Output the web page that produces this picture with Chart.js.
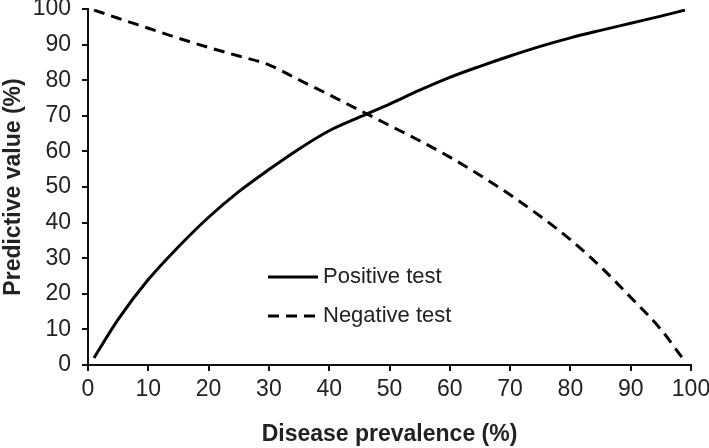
<!DOCTYPE html>
<html lang="en">
<head>
  <meta charset="UTF-8">
  <title>Predictive value vs disease prevalence</title>
  <script src="https://cdn.jsdelivr.net/npm/chart.js"></script>
  <style>
    html, body {
      margin: 0;
      padding: 0;
      background: white;
    }
    #box {
      width: 709px;
      height: 448px;
    }
  </style>
</head>
<body>
  <div id="box"><canvas id="grafico" width="709" height="448"></canvas></div>
  <script>
    // values (prevalence %, predictive value %)
    const prevalence = [1, 5, 10, 15, 20, 25, 30, 35, 40, 45, 50, 55, 60, 65, 70, 75, 80, 85, 90, 95, 99];
    const positiveTest = [2, 12.8, 24, 33.2, 41.5, 48.7, 54.9, 60.7, 65.8, 69.6, 73.3, 77.2, 80.8, 83.9, 86.8, 89.5, 91.9, 94, 96, 98, 99.7];
    const negativeTest = [99.7, 97.4, 94.6, 91.8, 89.2, 86.8, 84.3, 80.1, 75.9, 71.6, 67.3, 63, 58.4, 53.3, 47.8, 41.8, 35.2, 27.6, 19, 10, 1];
    const seriesNames = ["Positive test", "Negative test"];
    const axisTicks = [0, 10, 20, 30, 40, 50, 60, 70, 80, 90, 100];

    const fonte = "'Liberation Sans', Arial, sans-serif";
    const cinza = "#222";

    const pontos = (ys) => prevalence.map((x, i) => ({ x: x, y: ys[i] }));

    // legend drawn inside the plot, like the original figure
    const legendaInterna = {
      id: "legendaInterna",
      afterDraw(chart) {
        const ctx = chart.ctx;
        const area = chart.chartArea;
        const x0 = area.left + 180;
        const linhas = [area.top + 268, area.top + 307];
        ctx.save();
        chart.data.datasets.forEach((ds, i) => {
          const y = linhas[i];
          ctx.strokeStyle = ds.borderColor;
          ctx.lineWidth = ds.borderWidth;
          ctx.setLineDash(ds.borderDash || []);
          ctx.beginPath();
          ctx.moveTo(x0, y);
          ctx.lineTo(x0 + 50, y);
          ctx.stroke();
          ctx.setLineDash([]);
          ctx.fillStyle = cinza;
          ctx.font = "22px " + fonte;
          ctx.textBaseline = "middle";
          ctx.fillText(ds.label, x0 + 55, y);
        });
        ctx.restore();
      }
    };

    new Chart(document.getElementById("grafico"), {
      type: "line",
      data: {
        datasets: [
          {
            label: seriesNames[0],
            data: pontos(positiveTest),
            borderColor: "#000",
            borderWidth: 3,
            pointRadius: 0,
            cubicInterpolationMode: "monotone"
          },
          {
            label: seriesNames[1],
            data: pontos(negativeTest),
            borderColor: "#000",
            borderWidth: 3,
            borderDash: [11, 7],
            pointRadius: 0,
            cubicInterpolationMode: "monotone"
          }
        ]
      },
      options: {
        responsive: false,
        animation: false,
        layout: { padding: { top: 9, right: 18, left: 0, bottom: 0 } },
        plugins: {
          legend: { display: false },
          tooltip: { enabled: false }
        },
        scales: {
          x: {
            type: "linear",
            min: 0,
            max: 100,
            afterBuildTicks: (s) => { s.ticks = axisTicks.map(v => ({ value: v })); },
            afterFit: (s) => { s.height = 83; s.paddingLeft = 0; s.paddingRight = 0; },
            grid: { drawOnChartArea: false, drawTicks: true, tickLength: 6, color: "#111", lineWidth: 2 },
            border: { display: true, color: "#111", width: 2 },
            ticks: { color: cinza, font: { family: fonte, size: 23 }, padding: 5, maxRotation: 0, autoSkip: false },
            title: {
              display: true,
              text: "Disease prevalence (%)",
              color: cinza,
              font: { family: fonte, size: 23, weight: "bold" },
              padding: 0
            }
          },
          y: {
            min: 0,
            max: 100,
            afterBuildTicks: (s) => { s.ticks = axisTicks.map(v => ({ value: v })); },
            afterFit: (s) => { s.width = 88; s.paddingTop = 0; s.paddingBottom = 0; },
            grid: { drawOnChartArea: false, drawTicks: true, tickLength: 6, color: "#111", lineWidth: 2 },
            border: { display: true, color: "#111", width: 2 },
            ticks: { color: cinza, font: { family: fonte, size: 23 }, padding: 11, autoSkip: false },
            title: {
              display: true,
              text: "Predictive value (%)",
              color: cinza,
              font: { family: fonte, size: 23, weight: "bold" },
              padding: 0
            }
          }
        }
      },
      plugins: [legendaInterna]
    });
  </script>
</body>
</html>
